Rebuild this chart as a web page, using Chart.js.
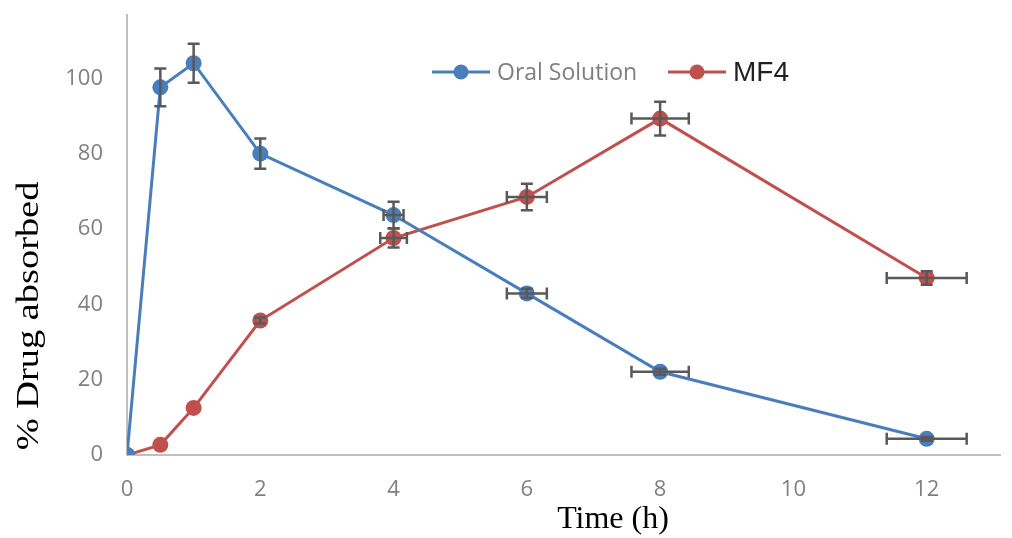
<!DOCTYPE html>
<html>
<head>
<meta charset="utf-8">
<script src="https://cdn.jsdelivr.net/npm/chart.js@4"></script>
<style>
  html, body { margin: 0; padding: 0; background: #fff; }
  #wrap { width: 1012px; height: 538px; }
</style>
</head>
<body>
<div id="wrap"><canvas id="chart" width="1012" height="538"></canvas></div>
<script>
// time points (h)
var times = [0, 0.5, 1, 2, 4, 6, 8, 12];
var xTicks = [0, 2, 4, 6, 8, 10, 12];
var yTicks = [0, 20, 40, 60, 80, 100];

// % drug absorbed
var oralSolution = [0, 97.6, 104, 80, 63.7, 42.9, 22.1, 4.3];
var mf4 = [0, 2.7, 12.5, 35.7, 57.6, 68.5, 89.3, 47];

// error bars (+/-)
var oralYErr = [0, 5, 5.2, 4, 3.5, 1.2, 0.8, 0.5];
var oralXErr = [0, 0, 0, 0, 0.15, 0.3, 0.43, 0.6];
var mf4YErr = [0, 0, 0, 0.8, 2.5, 3.5, 4.5, 1.8];
var mf4XErr = [0, 0, 0, 0, 0.2, 0.3, 0.43, 0.6];

function toPoints(ys) {
  return times.map(function (t, i) { return { x: t, y: ys[i] }; });
}

var errorBars = {
  id: 'errorBars',
  afterDatasetsDraw: function (chart) {
    var ctx = chart.ctx;
    var xs = chart.scales.x, ys = chart.scales.y;
    var sets = [[oralSolution, oralYErr, oralXErr], [mf4, mf4YErr, mf4XErr]];
    var cap = 6;
    ctx.save();
    ctx.strokeStyle = '#595959';
    ctx.lineWidth = 2.5;
    sets.forEach(function (s) {
      times.forEach(function (t, i) {
        var px = xs.getPixelForValue(t), py = ys.getPixelForValue(s[0][i]);
        var ey = s[1][i], ex = s[2][i];
        ctx.beginPath();
        if (ey > 0) {
          var top = ys.getPixelForValue(s[0][i] + ey), bot = ys.getPixelForValue(s[0][i] - ey);
          ctx.moveTo(px, top); ctx.lineTo(px, bot);
          ctx.moveTo(px - cap, top); ctx.lineTo(px + cap, top);
          ctx.moveTo(px - cap, bot); ctx.lineTo(px + cap, bot);
        }
        if (ex > 0) {
          var l = xs.getPixelForValue(t - ex), r = xs.getPixelForValue(t + ex);
          ctx.moveTo(l, py); ctx.lineTo(r, py);
          ctx.moveTo(l, py - cap); ctx.lineTo(l, py + cap);
          ctx.moveTo(r, py - cap); ctx.lineTo(r, py + cap);
        }
        ctx.stroke();
      });
    });
    ctx.restore();
  }
};

// legend inside the plot + axis titles
var extras = {
  id: 'extras',
  afterDraw: function (chart) {
    var ctx = chart.ctx;
    ctx.save();
    function entry(x, y, color, text, textColor, font) {
      ctx.strokeStyle = color;
      ctx.lineWidth = 3;
      ctx.beginPath(); ctx.moveTo(x, y); ctx.lineTo(x + 58, y); ctx.stroke();
      ctx.fillStyle = color;
      ctx.beginPath(); ctx.arc(x + 29, y, 7.5, 0, Math.PI * 2); ctx.fill();
      ctx.fillStyle = textColor;
      ctx.font = font;
      ctx.textAlign = 'left';
      ctx.textBaseline = 'middle';
      ctx.fillText(text, x + 65, y + 1);
    }
    entry(432, 72, '#4a7ebb', 'Oral Solution', '#7f7f7f', '23px "Open Sans"');
    entry(668, 72, '#c0504d', 'MF4', '#1f1f1f', '28px "Liberation Sans"');

    ctx.fillStyle = '#000';
    ctx.font = '32px "Liberation Serif"';
    ctx.textAlign = 'center';
    ctx.textBaseline = 'middle';
    ctx.fillText('Time (h)', 613, 520);
    ctx.translate(30, 316);
    ctx.rotate(-Math.PI / 2);
    ctx.scale(1.2, 1);
    ctx.fillText('% Drug absorbed', 0, 0);
    ctx.restore();
  }
};

new Chart(document.getElementById('chart'), {
  type: 'line',
  data: {
    datasets: [{
      label: 'Oral Solution',
      data: toPoints(oralSolution),
      borderColor: '#4a7ebb',
      backgroundColor: '#4a7ebb',
      borderWidth: 3,
      pointRadius: 8,
      pointBorderWidth: 0,
      tension: 0
    }, {
      label: 'MF4',
      data: toPoints(mf4),
      borderColor: '#c0504d',
      backgroundColor: '#c0504d',
      borderWidth: 3,
      pointRadius: 8,
      pointBorderWidth: 0,
      tension: 0
    }]
  },
  options: {
    responsive: false,
    animation: false,
    layout: { padding: { left: 0, right: 12, top: 15, bottom: 0 } },
    plugins: { legend: { display: false }, tooltip: { enabled: false } },
    scales: {
      x: {
        type: 'linear',
        min: 0,
        max: 13.1,
        afterBuildTicks: function (axis) { axis.ticks = xTicks.map(function (v) { return { value: v }; }); },
        afterFit: function (axis) { axis.height = 83; axis.paddingLeft = 0; axis.paddingRight = 0; },
        grid: { display: false, drawTicks: false },
        border: { color: '#bfbfbf', width: 2 },
        ticks: { color: '#808080', font: { family: 'Open Sans', size: 22 }, padding: 22, maxRotation: 0 }
      },
      y: {
        min: 0,
        max: 116.8,
        afterBuildTicks: function (axis) { axis.ticks = yTicks.map(function (v) { return { value: v }; }); },
        afterFit: function (axis) { axis.width = 127; axis.paddingTop = 0; axis.paddingBottom = 0; },
        grid: { display: false, drawTicks: false },
        border: { color: '#bfbfbf', width: 2 },
        ticks: { color: '#808080', font: { family: 'Open Sans', size: 22 }, padding: 24 }
      }
    }
  },
  plugins: [errorBars, extras]
});
</script>
</body>
</html>
